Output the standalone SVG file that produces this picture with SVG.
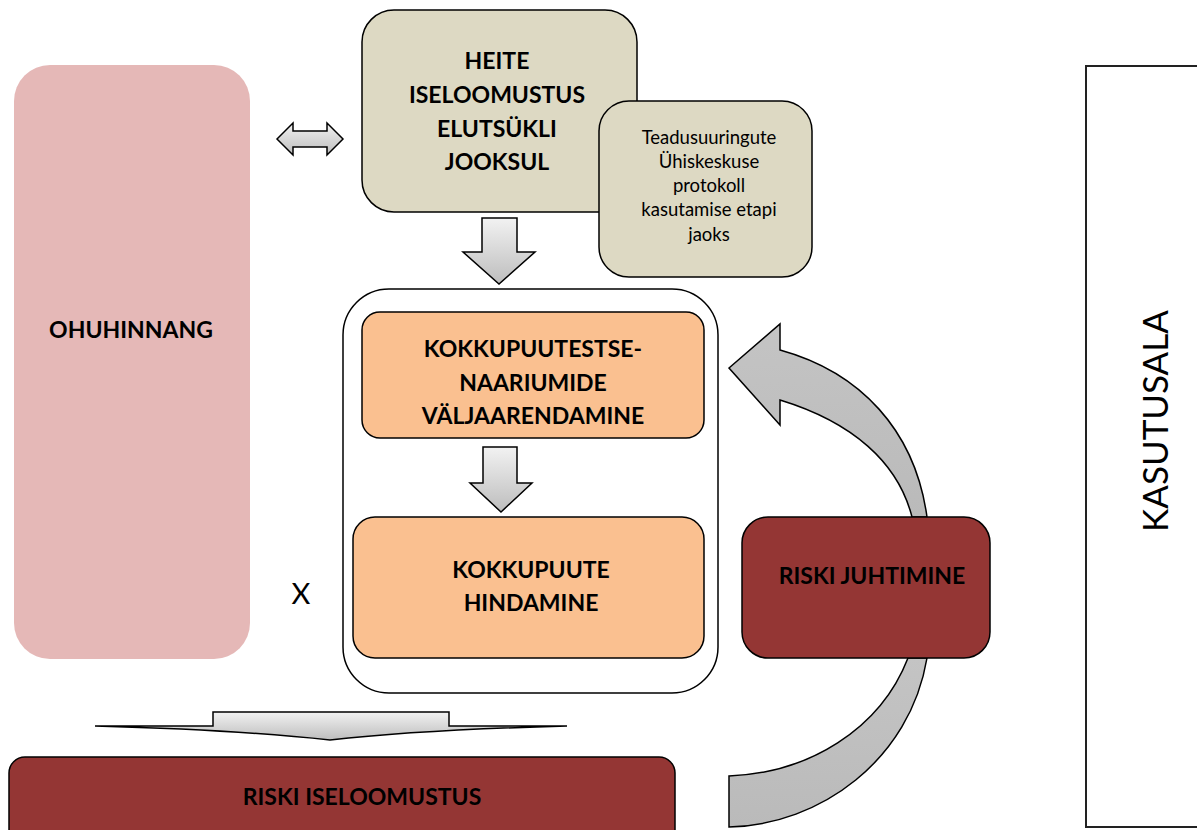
<svg xmlns="http://www.w3.org/2000/svg" width="1197" height="830" viewBox="0 0 1197 830">
<defs>
<linearGradient id="gv" x1="0" y1="0" x2="0" y2="1">
<stop offset="0" stop-color="#f2f2f2"/>
<stop offset="1" stop-color="#bdbdbd"/>
</linearGradient>
<linearGradient id="gc" x1="0" y1="0" x2="0" y2="1">
<stop offset="0" stop-color="#c4c4c4"/>
<stop offset="1" stop-color="#bababa"/>
</linearGradient>
</defs>
<style>
.b{font-family:Lato,"Liberation Sans",sans-serif;font-weight:bold;fill:#000;text-anchor:middle}
.r{font-family:Lato,"Liberation Sans",sans-serif;fill:#000;text-anchor:middle}
.box{stroke:#000;stroke-width:1.5}
.arr{fill:url(#gv);stroke:#000;stroke-width:1.5;stroke-linejoin:miter}
.carr{fill:url(#gc);stroke:#000;stroke-width:1.5}
</style>
<rect width="1197" height="830" fill="#fff"/>

<g id="ohuhinnang">
<rect x="14" y="65" width="236" height="594" rx="36" fill="#e5b8b7"/>
<text class="b" x="131" y="338" font-size="23">OHUHINNANG</text>
</g>

<g id="kasutusala">
<rect x="1086" y="66" width="130" height="761" fill="#fff" stroke="#222" stroke-width="2"/>
<text class="r" transform="translate(1168,421) rotate(-90)" font-size="35">KASUTUSALA</text>
</g>

<g id="connectors">
<path class="arr" d="M277,139 L293,123 L293,131 L327,131 L327,123 L343,139 L327,155 L327,147 L293,147 L293,155 Z"/>
<path class="arr" d="M482,218 L517,218 L517,252 L535,252 L499,284 L463,252 L482,252 Z"/>
<path class="arr" d="M483,447 L517,447 L517,483 L532,483 L501,512 L470,483 L483,483 Z"/>
<path class="arr" d="M95,726 L213,726 L213,712 L449,712 L449,726 L567,726 Q420,730 330,740 Q240,730 95,726 Z"/>
<path class="carr" d="M729,368 L780,324 L780,350 C860,372 915,430 927,517 L912,517 C898,462 852,422 780,400 L780,425 Z"/>
<path class="carr" d="M927,658 C910,760 820,825 729,827 L729,776 C808,773 880,730 908,658 Z"/>
</g>

<g id="heite">
<rect class="box" x="362" y="10" width="275" height="202" rx="32" fill="#ddd9c3"/>
<text class="b" font-size="23"><tspan x="497" y="69">HEITE</tspan><tspan x="497" y="103">ISELOOMUSTUS</tspan><tspan x="497" y="137">ELUTSÜKLI</tspan><tspan x="497" y="170">JOOKSUL</tspan></text>
</g>

<g id="protokoll">
<rect class="box" x="599" y="101" width="213" height="176" rx="30" fill="#ddd9c3"/>
<text class="r" font-size="18.5"><tspan x="709" y="144">Teadusuuringute</tspan><tspan x="709" y="168">Ühiskeskuse</tspan><tspan x="709" y="192">protokoll</tspan><tspan x="709" y="216">kasutamise etapi</tspan><tspan x="709" y="241">jaoks</tspan></text>
</g>

<g id="container">
<rect x="343" y="289" width="375" height="404" rx="46" fill="none" stroke="#000" stroke-width="1.5"/>
</g>

<g id="stsenaariumid">
<rect class="box" x="362" y="312" width="342" height="126" rx="18" fill="#fac090"/>
<text class="b" font-size="23"><tspan x="533" y="357">KOKKUPUUTESTSE-</tspan><tspan x="533" y="391">NAARIUMIDE</tspan><tspan x="533" y="424">VÄLJAARENDAMINE</tspan></text>
</g>

<g id="hindamine">
<rect class="box" x="353" y="517" width="351" height="141" rx="22" fill="#fac090"/>
<text class="b" font-size="23"><tspan x="531" y="578">KOKKUPUUTE</tspan><tspan x="531" y="611">HINDAMINE</tspan></text>
</g>

<g id="x">
<text class="r" x="301" y="604" font-size="29">X</text>
</g>

<g id="riskijuhtimine">
<rect class="box" x="742" y="517" width="248" height="141" rx="26" fill="#943634"/>
<text class="b" x="872" y="584" font-size="23">RISKI JUHTIMINE</text>
</g>

<g id="riskiiseloomustus">
<rect class="box" x="9" y="757" width="666" height="100" rx="16" fill="#943634"/>
<text class="b" x="362" y="805" font-size="23">RISKI ISELOOMUSTUS</text>
</g>
</svg>
